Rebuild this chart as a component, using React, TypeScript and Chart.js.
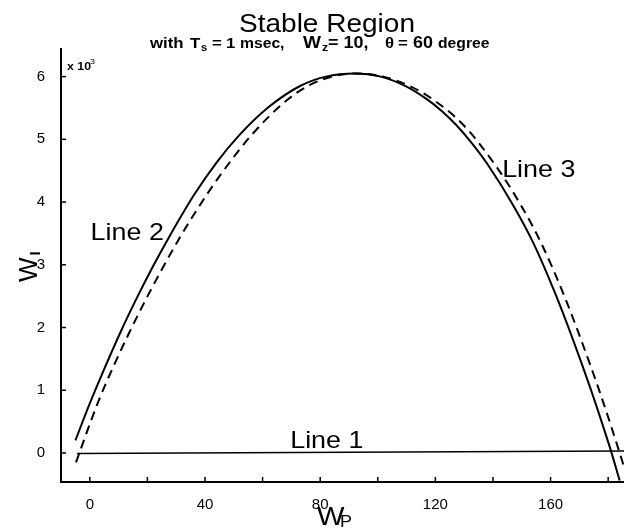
import React, { useEffect, useRef } from "react";
import { Chart, registerables } from "chart.js";

Chart.register(...registerables);

// W_P (x) and W_I (x 10^3) readings
const SOLID_WP = [-5, 0, 4, 11, 16, 22, 28, 36, 44, 52, 62, 73, 82, 92, 101, 110, 117, 122, 127, 133, 138, 147, 154, 162, 168, 174, 178, 181, 184];
const SOLID_WI = [0.2, 0.79, 1.23, 1.96, 2.44, 2.98, 3.48, 4.1, 4.63, 5.07, 5.51, 5.85, 6.0, 6.05, 6.0, 5.84, 5.64, 5.46, 5.24, 4.92, 4.61, 3.95, 3.35, 2.5, 1.78, 1.01, 0.46, 0.03, -0.44];

const DASH_WP = [-4.8, 2.7, 8.4, 17.7, 24.7, 31.6, 38.5, 45, 56, 68.6, 77, 85, 92, 102, 111.5, 119, 129.5, 140.5, 149.7, 156.7, 164.8, 170.8, 176.8, 180.8, 183.8, 185.5];
const DASH_WI = [-0.15, 0.79, 1.4, 2.29, 2.9, 3.46, 3.97, 4.41, 5.06, 5.63, 5.88, 6.01, 6.05, 6.0, 5.84, 5.64, 5.24, 4.61, 3.95, 3.35, 2.5, 1.78, 1.01, 0.46, 0.03, -0.22];

const LINE1_WP = [-4.5, 185.5];
const LINE1_WI = [-0.01, 0.03];

const X_TICKS = [0, 20, 40, 60, 80, 100, 120, 140, 160, 180];
const X_TICK_LABELS = [0, 40, 80, 120, 160];
const Y_TICKS = [0, 1, 2, 3, 4, 5, 6];

const LINE_LABELS = [
  { text: "Line 1", x: 82.3, y: 0.08 },
  { text: "Line 2", x: 13.0, y: 3.4 },
  { text: "Line 3", x: 155.9, y: 4.4 },
];

const FONT = "'Liberation Sans', Arial, Helvetica, sans-serif";
const STRETCH = 1.12;

const zip = (xs: number[], ys: number[]) => xs.map((x, i) => ({ x, y: ys[i] }));

function drawText(ctx: CanvasRenderingContext2D, text: string, x: number, y: number, font: string, align: CanvasTextAlign = "left") {
  ctx.save();
  ctx.translate(x, y);
  ctx.scale(STRETCH, 1);
  ctx.font = font;
  ctx.textAlign = align;
  ctx.textBaseline = "alphabetic";
  ctx.fillStyle = "#000";
  ctx.fillText(text, 0, 0);
  ctx.restore();
}

const decorPlugin = {
  id: "decor",
  afterDraw(chart: any) {
    const { ctx, chartArea, scales } = chart;
    const xs = scales.x;
    const ys = scales.y;
    ctx.save();
    // inward tick marks
    ctx.strokeStyle = "#000";
    ctx.lineWidth = 1.5;
    X_TICKS.forEach((v) => {
      const px = xs.getPixelForValue(v);
      ctx.beginPath();
      ctx.moveTo(px, chartArea.bottom);
      ctx.lineTo(px, chartArea.bottom - 5);
      ctx.stroke();
    });
    Y_TICKS.forEach((v) => {
      const py = ys.getPixelForValue(v);
      ctx.beginPath();
      ctx.moveTo(chartArea.left, py);
      ctx.lineTo(chartArea.left + 5, py);
      ctx.stroke();
    });

    // title
    drawText(ctx, "Stable Region", 327, 32, `25px ${FONT}`, "center");

    // subtitle
    const base = 47.5;
    const segs: [number, string, string, number][] = [
      [150, "with", `bold 15px ${FONT}`, 0],
      [190, "T", `bold 15px ${FONT}`, 0],
      [201, "s", `bold 10px ${FONT}`, 3],
      [212, "=", `bold 15px ${FONT}`, 0],
      [226, "1", `bold 15px ${FONT}`, 0],
      [240, "msec,", `bold 14px ${FONT}`, 0],
      [303, "W", `bold 17px ${FONT}`, 0],
      [322, "z", `bold 11px ${FONT}`, 3],
      [328, "= 10,", `bold 16px ${FONT}`, 0],
      [385, "θ", `bold 15px ${FONT}`, 0],
      [398, "=", `bold 15px ${FONT}`, 0],
      [413, "60", `bold 16px ${FONT}`, 0],
      [438, "degree", `bold 14px ${FONT}`, 0],
    ];
    segs.forEach(([x, t, f, dy]) => drawText(ctx, t, x, base + dy, f));

    // exponent label
    drawText(ctx, "x 10", 67, 70, `bold 11px ${FONT}`);
    drawText(ctx, "3", 90, 64, `8px ${FONT}`);

    // line labels
    LINE_LABELS.forEach((l) => {
      drawText(ctx, l.text, xs.getPixelForValue(l.x), ys.getPixelForValue(l.y), `24px ${FONT}`, "center");
    });

    // x-axis title W_P
    drawText(ctx, "W", 317, 525, `26px ${FONT}`);
    drawText(ctx, "P", 340, 527, `16px ${FONT}`);

    // y-axis title W_I (rotated)
    ctx.save();
    ctx.translate(37, 282);
    ctx.rotate(-Math.PI / 2);
    ctx.font = `26px ${FONT}`;
    ctx.fillStyle = "#000";
    ctx.textBaseline = "alphabetic";
    ctx.fillText("W", 0, 0);
    const w = ctx.measureText("W").width;
    ctx.font = `bold 15px ${FONT}`;
    ctx.fillText("I", w + 2, 3);
    ctx.restore();

    ctx.restore();
  },
};

export default function App() {
  const ref = useRef<HTMLCanvasElement>(null);
  useEffect(() => {
    if (!ref.current) return;
    const chart = new Chart(ref.current, {
      type: "scatter",
      data: {
        datasets: [
          {
            label: "Line 1",
            data: zip(LINE1_WP, LINE1_WI),
            showLine: true,
            borderColor: "#000",
            borderWidth: 1.5,
            pointRadius: 0,
          },
          {
            label: "Line 2/3",
            data: zip(SOLID_WP, SOLID_WI),
            showLine: true,
            borderColor: "#000",
            borderWidth: 2,
            pointRadius: 0,
            cubicInterpolationMode: "monotone",
          },
          {
            label: "dashed",
            data: zip(DASH_WP, DASH_WI),
            showLine: true,
            borderColor: "#000",
            borderWidth: 2,
            borderDash: [9, 6],
            pointRadius: 0,
            cubicInterpolationMode: "monotone",
          },
        ],
      },
      options: {
        responsive: false,
        animation: false,
        devicePixelRatio: 1,
        layout: { padding: { top: 49, left: 0, right: 0, bottom: 0 } },
        plugins: {
          legend: { display: false },
          tooltip: { enabled: false },
          title: { display: false },
        },
        scales: {
          x: {
            type: "linear",
            min: -10,
            max: 185.5,
            grid: { display: false },
            border: { display: true, color: "#000", width: 2 },
            afterBuildTicks: (s: any) => {
              s.ticks = X_TICKS.map((v) => ({ value: v }));
            },
            afterFit: (s: any) => {
              s.height = 47;
            },
            ticks: {
              autoSkip: false,
              maxRotation: 0,
              padding: 6,
              color: "#000",
              font: { family: FONT, size: 15 },
              callback: (v: any) => (X_TICK_LABELS.includes(Number(v)) ? String(v) : ""),
            },
          },
          y: {
            type: "linear",
            min: -0.4625,
            max: 6.44,
            grid: { display: false },
            border: { display: true, color: "#000", width: 2 },
            afterBuildTicks: (s: any) => {
              s.ticks = Y_TICKS.map((v) => ({ value: v }));
            },
            afterFit: (s: any) => {
              s.width = 61;
            },
            ticks: {
              autoSkip: false,
              padding: 8,
              color: "#000",
              font: { family: FONT, size: 15 },
              callback: (v: any) => String(v),
            },
          },
        },
      },
      plugins: [decorPlugin],
    });
    return () => chart.destroy();
  }, []);
  return (
    <div style={{ position: "absolute", left: 0, top: 0, width: 624, height: 529, background: "#fff" }}>
      <canvas ref={ref} width={624} height={529} style={{ display: "block" }} />
    </div>
  );
}
